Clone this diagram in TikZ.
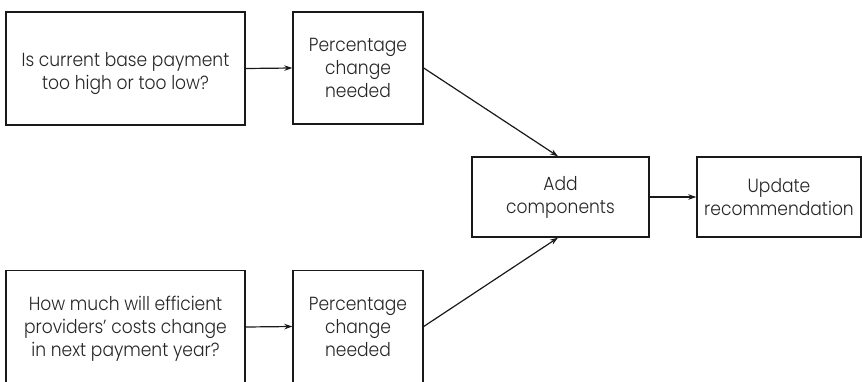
\documentclass[tikz,border=0pt]{standalone}
\usepackage{fontspec}
\setmainfont{Poppins Light}[FakeStretch=0.9]
\usetikzlibrary{arrows.meta}
\begin{document}
\begin{tikzpicture}[x=1pt,y=-1pt,
  box/.style={draw=black!90,line width=1.4pt,align=center,inner sep=0pt,
    font=\fontsize{19}{23}\selectfont,text=black!85},
  txt/.style={align=center,inner sep=0pt,font=\fontsize{19}{23}\selectfont,text=black!85},
  conn/.style={draw=black!90,line width=1.2pt,-{Stealth[length=8pt,width=5.5pt]}}]
\useasboundingbox (0,0) rectangle (862,381);
\clip (0,0) rectangle (862,381);
\node[box,minimum width=239pt,minimum height=113pt] (q1) at (125.5,68.5) {};
\node[txt] (q1t) at (125.5,74) {Is current base payment\\too high or too low?};
\node[box,minimum width=130pt,minimum height=112pt] (p1) at (358,68) {Percentage\\change\\needed};
\node[box,minimum width=177pt,minimum height=80pt] (add) at (560.5,197) {Add\\components};
\node[box,minimum width=164pt,minimum height=80pt] (upd) at (779,197) {Update\\recommendation};
\node[box,minimum width=239pt,minimum height=113pt] (q2) at (125.5,327) {};
\node[txt] (q2t) at (125.5,329) {How much will efficient\\providers{\char"0027} costs change\\in next payment year?};
\node[box,minimum width=130pt,minimum height=112pt] (p2) at (358,326.5) {Percentage\\change\\needed};
\draw[conn] (q1.east) -- (p1.west);
\draw[conn] (q2.east) -- (p2.west);
\draw[conn] (p1.east) -- ([xshift=-2.5pt]add.north);
\draw[conn] (p2.east) -- ([xshift=-2.5pt]add.south);
\draw[conn] (add.east) -- (upd.west);
\end{tikzpicture}
\end{document}
